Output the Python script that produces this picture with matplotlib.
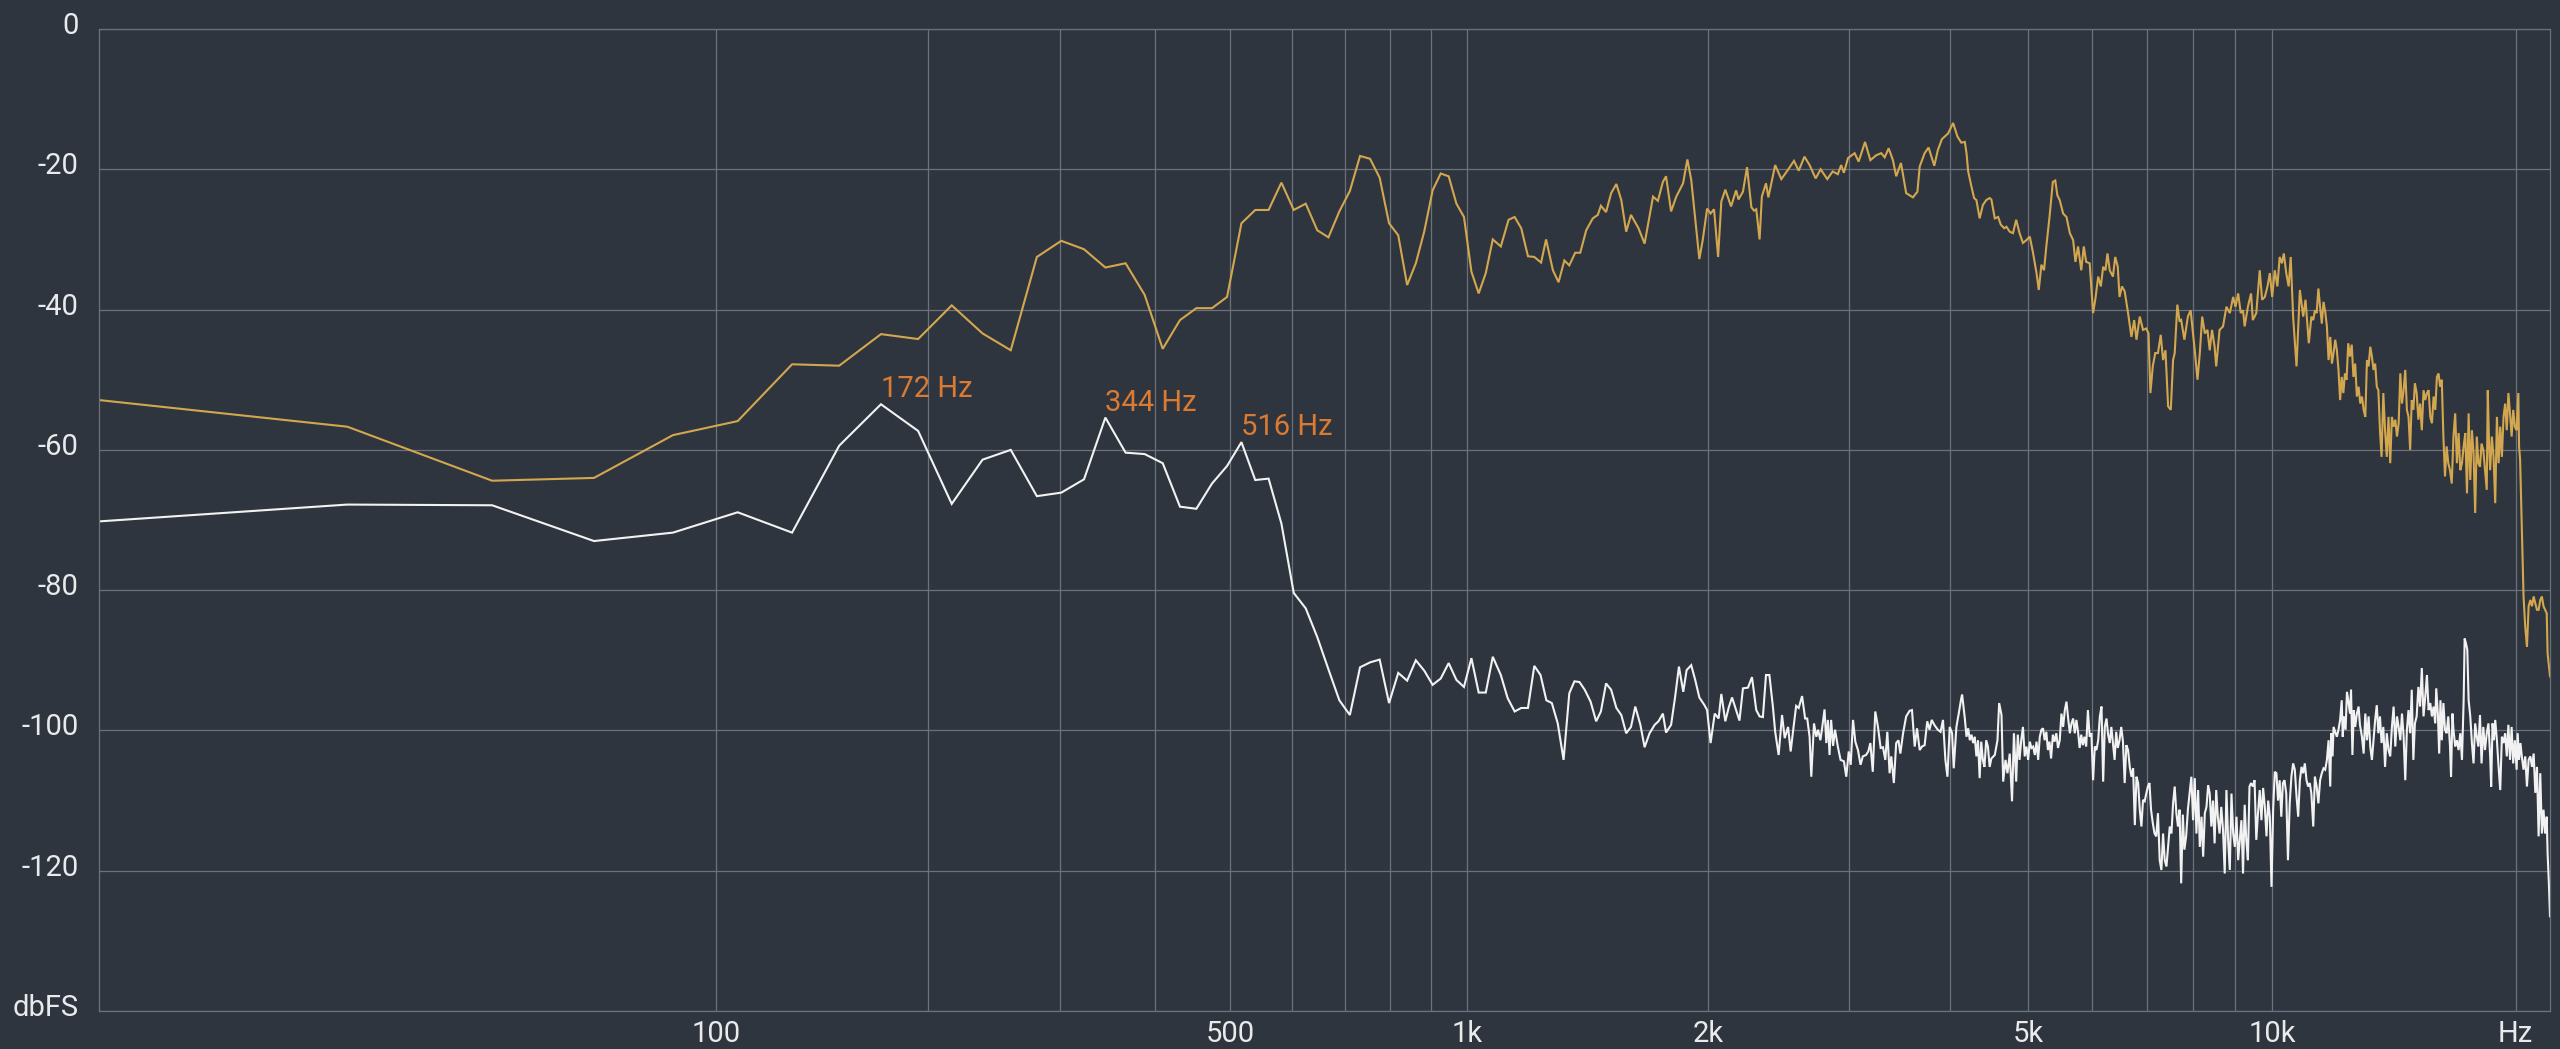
import numpy as np
import matplotlib
matplotlib.use("Agg")
import matplotlib.pyplot as plt
from matplotlib.transforms import ScaledTranslation

plt.rcParams['font.family'] = ['Roboto', 'DejaVu Sans']

# ---------------- data ----------------
# FFT bins (44.1 kHz / 2048) for the low part of the spectrum
low_hz = [0, 21.5, 43.1, 64.6, 86.1, 107.7, 129.2, 150.7, 172.3, 193.8,
          215.3, 236.9, 258.4, 279.9, 301.5, 323.0, 344.5, 366.1, 387.6, 409.1,
          430.7, 452.2, 473.7, 495.3, 516.8, 538.3, 559.9, 581.4, 602.9, 624.5,
          646.0, 667.5, 689.1, 710.6, 732.1, 753.7, 775.2, 796.7, 818.3, 839.8,
          861.3, 882.9, 904.4, 925.9, 947.5, 969.0, 990.5, 1012.1, 1033.6, 1055.1,
          1076.7]

gold_low_db = [-52.9, -56.7, -64.4, -64.0, -57.9, -55.9, -47.8, -48.0, -43.5, -44.2,
               -39.4, -43.4, -45.8, -32.5, -30.2, -31.4, -34.0, -33.4, -37.9, -45.6,
               -41.5, -39.8, -39.8, -38.2, -27.7, -25.8, -25.8, -21.9, -25.8, -24.9,
               -28.7, -29.7, -26.0, -23.1, -18.1, -18.5, -21.2, -27.7, -29.4, -36.5,
               -33.4, -28.8, -23.0, -20.6, -21.0, -24.9, -26.8, -34.6, -37.7, -34.8,
               -30.0]

white_low_db = [-70.2, -67.8, -67.9, -73.0, -71.8, -68.9, -71.8, -59.4, -53.5, -57.3,
                -67.7, -61.4, -60.0, -66.6, -66.1, -64.2, -55.4, -60.4, -60.6, -61.9,
                -68.1, -68.4, -64.8, -62.3, -58.9, -64.3, -64.1, -70.5, -80.4, -82.6,
                -86.7, -91.3, -95.7, -97.8, -91.0, -90.3, -89.9, -96.1, -91.8, -92.9,
                -90.0, -91.5, -93.5, -92.6, -90.4, -92.8, -93.8, -89.7, -94.6, -94.6,
                -89.5]

# gold (input) spectrum, 1.1 kHz - 4.1 kHz
gold_b_hz = [1102, 1127, 1147, 1169, 1192, 1214, 1238, 1256, 1281, 1302,
             1324, 1343, 1366, 1386, 1410, 1437, 1458, 1471, 1493, 1515,
             1538, 1560, 1582, 1604, 1639, 1668, 1709, 1733, 1758, 1774,
             1800, 1827, 1863, 1886, 1907, 1952, 1971, 1996, 2016, 2036,
             2060, 2079, 2103, 2138, 2169, 2184, 2212, 2238, 2266, 2283,
             2298, 2320, 2335, 2363, 2379, 2426, 2469, 2512, 2560, 2595,
             2638, 2677, 2724, 2763, 2816, 2860, 2902, 2930, 2953, 2988,
             3045, 3080, 3137, 3185, 3239, 3286, 3318, 3356, 3397, 3429,
             3476, 3528, 3597, 3643, 3667, 3719, 3761, 3823, 3861, 3907,
             3976, 4034, 4083, 4129]
gold_b_db = [-31.0, -27.2, -26.8, -28.4, -32.4, -32.5, -33.3, -30.0, -34.4, -36.1,
             -33.0, -33.7, -31.9, -31.9, -28.7, -27.0, -26.5, -25.2, -26.1, -23.4,
             -22.1, -24.4, -28.9, -26.5, -28.4, -30.6, -23.9, -24.5, -21.8, -21.0,
             -26.0, -23.9, -22.0, -18.6, -21.5, -32.8, -30.1, -25.6, -26.3, -25.7,
             -32.5, -24.6, -22.9, -25.3, -23.0, -24.3, -23.2, -19.7, -25.4, -25.9,
             -25.7, -30.0, -23.9, -22.0, -24.0, -19.4, -21.4, -20.2, -18.8, -20.2,
             -18.2, -19.4, -21.3, -20.0, -21.4, -20.3, -20.7, -19.4, -20.5, -18.4,
             -17.7, -18.9, -16.1, -18.7, -18.0, -17.7, -18.3, -17.0, -18.7, -21.0,
             -19.1, -23.4, -24.0, -23.2, -19.6, -17.7, -16.9, -19.5, -17.3, -15.7,
             -14.9, -13.4, -15.3, -16.2]

# gold, 4.1 kHz - 11.2 kHz
gold_c_hz = [4171, 4191, 4211, 4251, 4283, 4311, 4351, 4391, 4433, 4477,
             4499, 4543, 4587, 4622, 4666, 4697, 4741, 4785, 4829, 4875,
             4923, 4972, 5020, 5068, 5117, 5150, 5189, 5228, 5262, 5310,
             5361, 5398, 5430, 5467, 5520, 5573, 5627, 5680, 5717, 5760,
             5813, 5855, 5895, 5954, 6012, 6053, 6100, 6146, 6187, 6228,
             6263, 6304, 6362, 6403, 6450, 6482, 6527, 6578, 6642, 6706,
             6758, 6803, 6867, 6931, 6995, 7040, 7078, 7126, 7176, 7232,
             7289, 7338, 7388, 7444, 7501, 7550, 7585, 7642, 7691, 7726,
             7797, 7875, 7937, 7992, 8030, 8093, 8147, 8202, 8264, 8326,
             8380, 8435, 8497, 8536, 8618, 8703, 8788, 8873, 8958, 9018,
             9086, 9154, 9213, 9256, 9341, 9426, 9473, 9567, 9661, 9727,
             9802, 9877, 9943, 10009, 10084, 10159, 10225, 10291, 10347, 10418,
             10490, 10551, 10624, 10727, 10830, 10933, 11005, 11108, 11190]
gold_c_db = [-16.1, -17.7, -20.3, -22.5, -24.1, -24.4, -27.0, -25.1, -24.4, -24.1,
             -24.3, -27.0, -26.8, -27.9, -28.4, -28.2, -28.9, -29.1, -27.2, -29.1,
             -30.5, -30.1, -29.6, -32.0, -34.8, -37.2, -33.6, -34.4, -31.0, -26.8,
             -21.8, -21.6, -23.7, -24.4, -26.3, -26.8, -29.1, -30.1, -33.2, -31.0,
             -34.4, -31.0, -33.2, -33.4, -40.5, -38.4, -35.3, -36.7, -33.9, -34.4,
             -32.0, -34.4, -35.3, -32.5, -33.9, -38.2, -36.7, -37.4, -40.5, -43.9,
             -41.5, -44.3, -41.0, -42.9, -42.7, -43.4, -51.9, -48.1, -46.2, -46.2,
             -43.6, -47.2, -45.8, -53.8, -54.3, -47.2, -46.2, -39.3, -41.7, -41.5,
             -44.3, -41.0, -40.1, -43.4, -45.8, -50.0, -46.2, -41.0, -43.4, -42.9,
             -45.8, -42.9, -45.3, -48.1, -42.9, -42.4, -39.6, -40.5, -38.2, -39.6,
             -37.7, -40.5, -40.1, -42.4, -39.6, -37.7, -41.5, -40.5, -34.4, -38.6,
             -38.2, -36.7, -34.8, -38.2, -34.4, -36.7, -32.5, -33.4, -32.0, -34.8,
             -36.7, -32.5, -41.0, -48.1, -37.2, -41.0, -38.6, -44.8, -41.0]

# gold, 11.2 kHz - 22.05 kHz
gold_d_hz = [11250, 11303, 11359, 11415, 11471, 11527, 11583, 11639, 11695, 11751,
             11807, 11863, 11919, 11975, 12031, 12087, 12143, 12199, 12255, 12311,
             12367, 12427, 12489, 12550, 12612, 12674, 12736, 12798, 12859, 12921,
             12983, 13045, 13106, 13168, 13230, 13292, 13353, 13415, 13477, 13538,
             13600, 13662, 13730, 13798, 13866, 13934, 14002, 14070, 14138, 14206,
             14274, 14342, 14410, 14478, 14546, 14614, 14682, 14750, 14818, 14886,
             14954, 15020, 15095, 15169, 15244, 15318, 15393, 15467, 15542, 15616,
             15691, 15765, 15840, 15914, 15989, 16063, 16138, 16212, 16287, 16361,
             16436, 16514, 16596, 16678, 16760, 16842, 16924, 17006, 17088, 17170,
             17252, 17334, 17416, 17498, 17580, 17662, 17744, 17826, 17908, 17990,
             18072, 18152, 18242, 18332, 18422, 18476, 18548, 18602, 18692, 18782,
             18872, 18962, 19052, 19142, 19232, 19322, 19412, 19502, 19592, 19682,
             19772, 19862, 19955, 20055, 20154, 20194, 20254, 20353, 20453, 20552,
             20652, 20751, 20851, 20950, 21050, 21149, 21249, 21348, 21448, 21547,
             21647, 21746, 21846, 21900, 22050]
gold_d_db = [-41.5, -40.1, -40.5, -37.0, -39.6, -42.0, -38.9, -40.3, -42.4, -47.2,
             -43.9, -47.7, -46.2, -44.3, -45.8, -48.6, -52.9, -49.6, -51.9, -49.1,
             -50.0, -44.8, -46.7, -45.0, -49.6, -47.7, -52.4, -51.0, -53.4, -52.4,
             -54.3, -55.3, -47.2, -48.1, -45.3, -46.7, -48.6, -47.7, -51.0, -51.5,
             -57.2, -61.0, -51.9, -57.2, -61.0, -55.3, -61.9, -55.3, -56.7, -55.7,
             -58.1, -56.2, -49.1, -53.4, -51.5, -48.6, -54.3, -55.3, -60.0, -52.9,
             -54.3, -50.5, -51.9, -55.7, -53.4, -57.2, -51.5, -52.9, -51.9, -51.5,
             -55.3, -56.2, -52.4, -54.3, -49.6, -49.1, -51.0, -50.0, -58.1, -63.8,
             -59.5, -61.9, -62.9, -64.8, -58.1, -54.8, -61.9, -57.6, -62.9, -61.9,
             -59.5, -57.6, -66.2, -54.8, -64.3, -57.2, -60.5, -69.0, -58.1, -61.9,
             -62.4, -59.1, -60.0, -62.9, -65.7, -51.5, -59.5, -62.9, -58.1, -61.0,
             -67.6, -55.3, -61.9, -56.7, -61.0, -55.3, -53.4, -57.2, -51.9, -54.8,
             -58.1, -54.3, -56.7, -57.2, -51.9, -59.5, -61.4, -71.4, -80.9, -85.2,
             -88.1, -82.3, -81.4, -82.3, -80.9, -81.9, -82.8, -82.8, -81.4, -80.9,
             -82.3, -82.8, -83.3, -89.0, -92.3]

# white (output) spectrum, 1.1 kHz - 4.1 kHz
white_b_hz = [1102, 1124, 1147, 1169, 1192, 1214, 1236, 1257, 1277, 1299,
              1321, 1343, 1363, 1383, 1404, 1428, 1451, 1471, 1493, 1515,
              1538, 1560, 1582, 1604, 1624, 1648, 1668, 1692, 1717, 1736,
              1758, 1774, 1800, 1821, 1841, 1864, 1882, 1907, 1929, 1952,
              1981, 1996, 2016, 2040, 2063, 2079, 2103, 2124, 2144, 2169,
              2190, 2212, 2244, 2270, 2298, 2320, 2342, 2363, 2386, 2410,
              2426, 2450, 2474, 2493, 2517, 2536, 2557, 2576, 2595, 2620,
              2643, 2659, 2677, 2690, 2711, 2729, 2743, 2761, 2776, 2794,
              2808, 2821, 2834, 2847, 2863, 2879, 2902, 2925, 2953, 2973,
              2994, 3011, 3031, 3051, 3074, 3097, 3117, 3146, 3166, 3185,
              3207, 3230, 3255, 3280, 3302, 3324, 3343, 3365, 3381, 3406,
              3429, 3451, 3470, 3497, 3528, 3563, 3587, 3615, 3639, 3667,
              3691, 3719, 3747, 3771, 3795, 3823, 3861, 3892, 3919, 3946,
              3969, 3995, 4022, 4041, 4072, 4099, 4129]
white_b_db = [-92.1, -95.4, -97.3, -96.8, -96.8, -90.8, -92.1, -95.7, -96.1, -99.0,
              -104.2, -94.7, -93.0, -93.1, -94.2, -95.9, -98.7, -97.3, -93.3, -94.2,
              -96.8, -97.8, -100.4, -99.5, -96.6, -99.2, -102.4, -100.4, -99.2, -98.7,
              -97.6, -100.3, -99.2, -95.2, -90.9, -94.5, -91.4, -90.7, -92.8, -95.3,
              -96.4, -97.1, -101.8, -97.6, -98.3, -94.8, -98.7, -96.7, -95.3, -97.1,
              -98.6, -94.0, -93.9, -92.4, -97.1, -98.0, -98.1, -92.1, -92.1, -96.6,
              -100.2, -103.5, -97.8, -101.1, -99.5, -103.0, -99.5, -96.5, -96.8, -95.1,
              -98.3, -98.3, -100.9, -106.6, -99.0, -100.9, -99.9, -101.4, -99.5, -97.0,
              -101.8, -98.5, -103.5, -98.5, -102.2, -99.9, -102.3, -104.2, -104.4, -106.6,
              -103.0, -104.9, -98.5, -101.6, -102.8, -104.9, -103.7, -103.5, -103.0, -101.8,
              -105.9, -97.3, -99.5, -102.5, -102.4, -104.2, -100.2, -106.1, -103.7, -107.5,
              -101.8, -101.4, -103.3, -100.4, -98.0, -97.2, -97.1, -102.3, -99.7, -102.8,
              -102.3, -102.1, -98.7, -99.9, -98.5, -99.2, -99.9, -100.2, -98.5, -104.2,
              -106.6, -99.5, -100.4, -105.4, -99.5, -97.6, -95.4]

# white, 4.1 kHz - 11.2 kHz
white_c_hz = [4139, 4171, 4191, 4211, 4231, 4251, 4271, 4291, 4311, 4331,
              4351, 4371, 4391, 4411, 4433, 4455, 4477, 4499, 4543, 4578,
              4600, 4631, 4653, 4684, 4710, 4741, 4772, 4798, 4829, 4851,
              4875, 4899, 4923, 4948, 4972, 4996, 5020, 5044, 5068, 5093,
              5117, 5141, 5165, 5189, 5213, 5237, 5262, 5286, 5310, 5334,
              5361, 5387, 5414, 5440, 5467, 5494, 5520, 5547, 5573, 5600,
              5627, 5653, 5680, 5707, 5733, 5760, 5786, 5813, 5839, 5866,
              5895, 5924, 5954, 5983, 6012, 6041, 6070, 6100, 6129, 6158,
              6187, 6216, 6246, 6275, 6304, 6333, 6362, 6392, 6421, 6450,
              6482, 6514, 6546, 6578, 6610, 6642, 6674, 6706, 6738, 6771,
              6803, 6835, 6867, 6899, 6931, 6963, 6995, 7027, 7059, 7091,
              7126, 7162, 7197, 7232, 7268, 7303, 7338, 7373, 7409, 7444,
              7479, 7515, 7550, 7585, 7621, 7656, 7691, 7726, 7762, 7797,
              7836, 7875, 7914, 7953, 7992, 8030, 8069, 8108, 8147, 8186,
              8225, 8264, 8303, 8342, 8380, 8419, 8458, 8497, 8536, 8575,
              8618, 8660, 8703, 8745, 8788, 8830, 8873, 8915, 8958, 9001,
              9043, 9086, 9128, 9171, 9213, 9256, 9298, 9341, 9384, 9426,
              9473, 9520, 9567, 9614, 9661, 9708, 9755, 9802, 9849, 9896,
              9943, 9990, 10037, 10084, 10131, 10178, 10225, 10272, 10319, 10366,
              10418, 10469, 10521, 10572, 10624, 10675, 10727, 10778, 10830, 10881,
              10933, 10984, 11036, 11087, 11139, 11190]
white_c_db = [-94.9, -98.3, -100.9, -99.7, -101.4, -100.6, -101.8, -100.9, -103.7, -101.4,
              -106.8, -101.6, -104.2, -105.2, -101.4, -102.3, -105.2, -104.0, -103.5, -101.4,
              -96.1, -97.8, -107.3, -104.2, -106.1, -103.3, -110.1, -100.4, -107.3, -100.6,
              -104.2, -101.4, -99.5, -103.7, -102.3, -104.2, -101.6, -102.5, -102.3, -103.5,
              -101.6, -104.2, -100.9, -99.9, -99.7, -101.4, -100.2, -102.8, -101.6, -104.0,
              -100.6, -101.6, -100.4, -102.5, -101.4, -97.6, -99.5, -97.1, -95.9, -98.3,
              -100.4, -99.0, -98.3, -100.4, -98.5, -100.2, -102.5, -100.6, -102.1, -100.9,
              -102.3, -97.1, -100.9, -100.4, -107.1, -102.3, -102.8, -101.4, -98.0, -96.6,
              -107.3, -99.5, -98.3, -100.6, -101.8, -99.5, -101.8, -104.2, -100.2, -102.5,
              -101.4, -99.5, -101.6, -107.5, -102.1, -102.8, -105.2, -106.6, -105.4, -113.5,
              -106.6, -107.5, -111.3, -113.7, -109.9, -110.1, -109.0, -108.0, -107.5, -111.3,
              -113.2, -114.7, -115.1, -111.8, -118.5, -119.9, -114.7, -118.5, -119.4, -116.6,
              -113.7, -114.7, -110.4, -108.0, -111.8, -113.7, -111.3, -121.8, -112.0, -117.0,
              -115.1, -111.3, -109.0, -106.6, -112.8, -106.8, -114.7, -108.5, -116.6, -112.3,
              -118.0, -111.8, -110.9, -107.8, -109.0, -113.7, -110.0, -116.1, -108.5, -112.3,
              -114.7, -110.9, -114.2, -120.4, -108.5, -115.6, -119.9, -109.0, -114.7, -116.6,
              -112.3, -118.5, -115.6, -112.8, -120.4, -110.6, -115.6, -118.5, -108.0, -107.5,
              -108.0, -107.1, -115.6, -111.8, -108.5, -112.8, -108.2, -110.9, -115.1, -110.0,
              -112.3, -122.3, -111.3, -105.9, -106.1, -110.0, -107.1, -112.3, -107.5, -107.1,
              -109.0, -118.5, -110.4, -106.6, -104.7, -105.6, -109.4, -112.3, -107.1, -105.2,
              -106.1, -104.7, -107.1, -108.0, -107.5, -109.0]

# white, 11.2 kHz - 22.05 kHz
white_d_hz = [11250, 11303, 11359, 11415, 11471, 11527, 11583, 11639, 11695, 11751,
              11807, 11841, 11885, 11919, 11975, 12031, 12087, 12143, 12199, 12233,
              12277, 12333, 12382, 12427, 12489, 12526, 12575, 12625, 12674, 12736,
              12798, 12847, 12921, 12983, 13045, 13106, 13168, 13230, 13292, 13353,
              13415, 13477, 13538, 13600, 13662, 13730, 13798, 13866, 13934, 14002,
              14070, 14138, 14206, 14274, 14342, 14410, 14478, 14546, 14614, 14682,
              14750, 14818, 14886, 14954, 15020, 15095, 15169, 15244, 15318, 15393,
              15467, 15542, 15616, 15691, 15765, 15840, 15914, 15959, 16033, 16093,
              16152, 16212, 16287, 16361, 16436, 16514, 16596, 16645, 16711, 16760,
              16842, 16924, 17006, 17088, 17170, 17252, 17301, 17367, 17432, 17498,
              17580, 17662, 17744, 17826, 17908, 17990, 18072, 18152, 18242, 18332,
              18422, 18512, 18602, 18656, 18728, 18800, 18872, 18962, 19052, 19142,
              19232, 19322, 19412, 19502, 19592, 19682, 19772, 19862, 19955, 20055,
              20114, 20194, 20273, 20353, 20453, 20552, 20652, 20751, 20851, 20950,
              21050, 21149, 21249, 21348, 21448, 21547, 21647, 21746, 21846, 21900,
              21980, 22050]
white_d_db = [-113.7, -106.6, -108.0, -110.4, -107.1, -106.1, -105.4, -105.6, -104.2, -101.4,
              -108.0, -100.4, -103.7, -99.5, -100.2, -100.9, -99.9, -98.5, -95.7, -100.9,
              -98.0, -99.9, -94.5, -95.7, -97.6, -94.2, -103.5, -97.1, -99.5, -97.6,
              -96.6, -99.2, -100.9, -103.3, -97.6, -101.4, -98.0, -102.3, -104.2, -101.4,
              -98.5, -96.4, -100.4, -98.0, -101.8, -99.5, -105.2, -100.4, -102.8, -103.7,
              -99.5, -96.6, -102.3, -98.0, -99.5, -101.4, -97.6, -100.9, -107.1, -99.9,
              -97.1, -100.4, -94.2, -104.2, -99.0, -98.0, -93.8, -96.6, -91.1, -98.0,
              -95.2, -92.1, -97.1, -96.1, -98.0, -96.6, -99.0, -94.0, -97.6, -103.3,
              -95.7, -101.4, -96.1, -99.9, -100.4, -98.0, -102.3, -106.6, -97.6, -99.9,
              -102.3, -101.4, -102.8, -100.4, -104.2, -95.7, -86.9, -87.6, -88.5, -95.7,
              -98.0, -101.8, -104.7, -99.0, -100.9, -102.3, -97.8, -104.7, -99.5, -102.8,
              -100.4, -99.0, -103.7, -108.0, -99.0, -101.4, -98.5, -101.4, -105.2, -108.5,
              -100.9, -101.8, -100.4, -103.7, -99.2, -104.2, -99.5, -104.7, -101.4, -105.6,
              -100.4, -104.2, -101.8, -103.7, -105.6, -103.7, -108.0, -104.2, -103.7, -105.2,
              -103.3, -108.9, -105.2, -115.1, -106.1, -114.7, -111.3, -114.7, -112.3, -117.5,
              -121.8, -126.5]

peak_bins = [8, 16, 24]
peak_labels = ['172 Hz', '344 Hz', '516 Hz']

x_tick_hz = [100, 500, 1000, 2000, 5000, 10000, 20000]
x_tick_labels = ['100', '500', '1k', '2k', '5k', '10k', 'Hz']
x_grid_hz = [100, 200, 300, 400, 500, 600, 700, 800, 900,
             1000, 2000, 3000, 4000, 5000, 6000, 7000, 8000, 9000,
             10000, 20000]
y_ticks = [0, -20, -40, -60, -80, -100, -120, -140]
y_tick_labels = ['0', '-20', '-40', '-60', '-80', '-100', '-120', 'dbFS']

# ---------------- styling ----------------
BG = '#2f353e'
GRID = '#6c727b'
TXT = '#e9eaec'
GOLD = '#d3a74f'
WHITE = '#f2f2f2'
ANNO = '#d97b33'

gold_hz = low_hz + gold_b_hz + gold_c_hz + gold_d_hz
gold_db = gold_low_db + gold_b_db + gold_c_db + gold_d_db
white_hz = low_hz + white_b_hz + white_c_hz + white_d_hz
white_db = white_low_db + white_b_db + white_c_db + white_d_db

OFFSET = 21.0


def fwd(f):
    return np.log10(np.asarray(f, dtype=float) + OFFSET)


def inv(v):
    return 10 ** np.asarray(v, dtype=float) - OFFSET


fig = plt.figure(figsize=(25.6, 10.49), dpi=100, facecolor=BG)
ax = fig.add_axes([99 / 2560, 38 / 1049, 2451 / 2560, 982 / 1049])
ax.set_facecolor(BG)
ax.set_xscale('function', functions=(fwd, inv))
ax.set_xlim(0, 22050)
ax.set_ylim(-140, 0)

ax.set_xticks(x_tick_hz)
ax.set_xticklabels(x_tick_labels)
ax.set_xticks(x_grid_hz, minor=True)
ax.set_yticks(y_ticks)
ax.set_yticklabels(y_tick_labels)

ax.tick_params(axis='both', which='both', length=0)
ax.tick_params(axis='x', which='major', pad=6.5, labelsize=21, labelcolor=TXT)
ax.tick_params(axis='y', which='major', pad=14.5, labelsize=21, labelcolor=TXT)
ax.grid(True, which='both', axis='x', color=GRID, lw=0.9)
ax.grid(True, which='major', axis='y', color=GRID, lw=0.9)
ax.set_axisbelow(True)
for s in ax.spines.values():
    s.set_color(GRID)
    s.set_linewidth(0.9)

shift = ScaledTranslation(0, 6 / 100, fig.dpi_scale_trans)
for lab in ax.get_yticklabels():
    lab.set_transform(lab.get_transform() + shift)

ax.plot(gold_hz, gold_db, color=GOLD, lw=1.5, solid_joinstyle='miter')
ax.plot(white_hz, white_db, color=WHITE, lw=1.5, solid_joinstyle='miter')

for b, txt in zip(peak_bins, peak_labels):
    ax.annotate(txt, xy=(low_hz[b], white_low_db[b]), xytext=(0, 5),
                textcoords='offset points', ha='left', va='baseline',
                color=ANNO, fontsize=21)

fig.savefig('out.png', dpi=100, facecolor=BG)
